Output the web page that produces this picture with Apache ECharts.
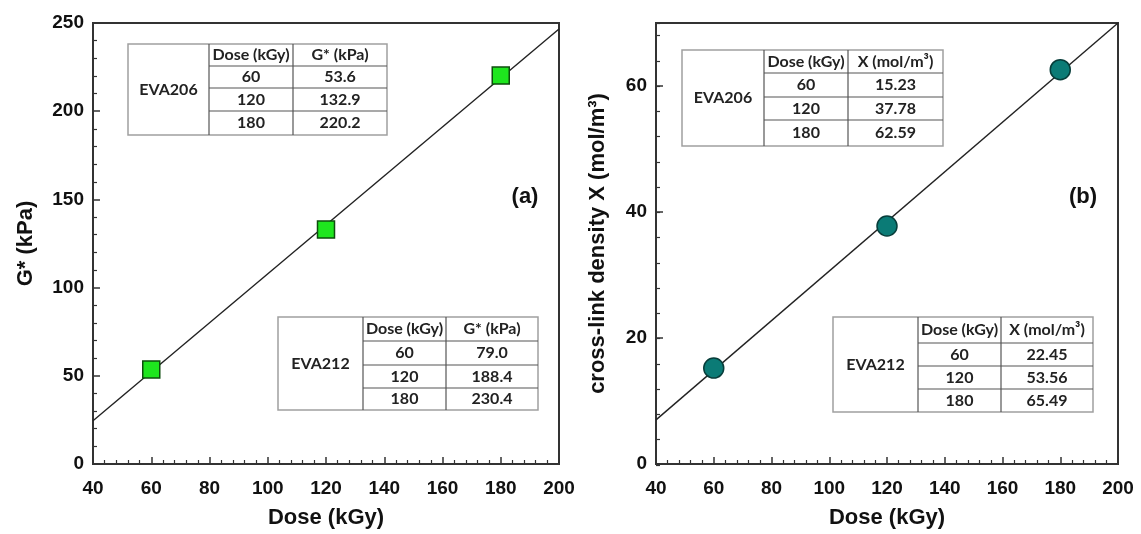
<!DOCTYPE html>
<html><head><meta charset="utf-8">
<script src="https://cdn.jsdelivr.net/npm/echarts@6/dist/echarts.min.js"></script>
<style>html,body{margin:0;padding:0;background:#fff}#c{width:1141px;height:534px}</style>
</head><body><div id="c"></div>
<script>
// ---- data ----
const doseA = [60, 120, 180];
const gStar = [53.6, 132.9, 220.2];
const fitDoseA = [40, 200];
const fitGStar = [24.5, 246.6];
const doseB = [60, 120, 180];
const crossX = [15.23, 37.78, 62.59];
const fitDoseB = [40, 200];
const fitCrossX = [7.0, 70.0];
const tableDoses = ['60', '120', '180'];
const eva206G = ['53.6', '132.9', '220.2'];
const eva212G = ['79.0', '188.4', '230.4'];
const eva206X = ['15.23', '37.78', '62.59'];
const eva212X = ['22.45', '53.56', '65.49'];

const chart = echarts.init(document.getElementById('c'), null, {renderer: 'canvas'});

const AX = '#333';
const labelFont = {fontFamily: 'Liberation Sans', fontWeight: 'bold', fontSize: 19, color: '#111'};
const nameFont = {fontFamily: 'Liberation Sans', fontWeight: 'bold', fontSize: 22, color: '#111'};

function baseAxis(extra) {
  return Object.assign({
    type: 'value',
    axisLine: {show: true, lineStyle: {color: AX, width: 2}},
    axisTick: {show: true, inside: true, length: 7, lineStyle: {color: AX, width: 1.5}},
    minorTick: {show: true, splitNumber: 5, length: 4, lineStyle: {color: AX, width: 1.2}},
    splitLine: {show: false},
    axisLabel: Object.assign({margin: 15}, labelFont),
    nameTextStyle: nameFont,
    nameLocation: 'middle'
  }, extra);
}

function ln(x1, y1, x2, y2) {
  return {type: 'line', shape: {x1, y1, x2, y2}, style: {stroke: '#555', lineWidth: 1.2}};
}
function txt(t, x, y) {
  return {type: 'text', style: {text: t, x, y, align: 'center', verticalAlign: 'middle', textAlign: 'center', textVerticalAlign: 'middle', font: 'bold 16px Lato', fill: '#222'}};
}
function table(x, y, cols, rows, name, h1, h2, c2, c3) {
  const W = cols[0] + cols[1] + cols[2];
  const H = rows.reduce((a, b) => a + b, 0);
  const x1 = x + cols[0], x2 = x1 + cols[1], x3 = x + W;
  const ys = [y];
  rows.forEach(r => ys.push(ys[ys.length - 1] + r));
  const ch = [];
  ch.push({type: 'rect', shape: {x, y, width: W, height: H}, style: {fill: '#fff', stroke: '#a0a0a0', lineWidth: 1.5}});
  ch.push(ln(x1, y, x1, y + H));
  ch.push(ln(x2, y, x2, y + H));
  for (let i = 1; i < 4; i++) ch.push(ln(x1, ys[i], x3, ys[i]));
  ch.push(txt(name, (x + x1) / 2, y + H / 2));
  ch.push(txt(h1, (x1 + x2) / 2, (ys[0] + ys[1]) / 2));
  ch.push(txt(h2, (x2 + x3) / 2, (ys[0] + ys[1]) / 2));
  for (let i = 0; i < 3; i++) {
    ch.push(txt(c2[i], (x1 + x2) / 2, (ys[i + 1] + ys[i + 2]) / 2));
    ch.push(txt(c3[i], (x2 + x3) / 2, (ys[i + 1] + ys[i + 2]) / 2));
  }
  return {type: 'group', z: 100, children: ch};
}

const option = {
  backgroundColor: '#fff',
  animation: false,
  grid: [
    {left: 93, top: 23, width: 466, height: 442, show: true, borderColor: AX, borderWidth: 2, backgroundColor: 'transparent'},
    {left: 656, top: 23, width: 462, height: 442, show: true, borderColor: AX, borderWidth: 2, backgroundColor: 'transparent'},
    {left: 656, top: 23, width: 462, height: 442, show: false}
  ],
  xAxis: [
    baseAxis({gridIndex: 0, min: 40, max: 200, interval: 20, name: 'Dose (kGy)', nameGap: 43}),
    baseAxis({gridIndex: 1, min: 40, max: 200, interval: 20, name: 'Dose (kGy)', nameGap: 43}),
    {gridIndex: 2, type: 'value', min: 40, max: 200, show: false}
  ],
  yAxis: [
    baseAxis({gridIndex: 0, min: 0, max: 250, interval: 50, name: 'G* (kPa)', nameGap: 56,
      axisLabel: Object.assign({margin: 9}, labelFont)}),
    baseAxis({gridIndex: 1, min: 0, max: 70, interval: 20, name: 'cross-link density X (mol/m³)', nameGap: 47,
      minorTick: {show: false},
      axisLabel: Object.assign({margin: 9, showMaxLabel: false}, labelFont)}),
    {gridIndex: 2, type: 'value', min: 0, max: 70, interval: 4,
      axisLine: {show: false}, axisLabel: {show: false}, splitLine: {show: false},
      axisTick: {show: true, inside: true, length: 4, lineStyle: {color: AX, width: 1.2}}}
  ],
  series: [
    {type: 'line', xAxisIndex: 0, yAxisIndex: 0, symbol: 'none', silent: true,
      lineStyle: {color: '#222', width: 1.4},
      data: fitDoseA.map((d, i) => [d, fitGStar[i]])},
    {type: 'scatter', xAxisIndex: 0, yAxisIndex: 0, symbol: 'rect', symbolSize: 17,
      itemStyle: {color: '#1ee61e', borderColor: '#0d4d0d', borderWidth: 1.5, opacity: 1},
      data: doseA.map((d, i) => [d, gStar[i]]), z: 5},
    {type: 'line', xAxisIndex: 1, yAxisIndex: 1, symbol: 'none', silent: true,
      lineStyle: {color: '#222', width: 1.4},
      data: fitDoseB.map((d, i) => [d, fitCrossX[i]])},
    {type: 'scatter', xAxisIndex: 1, yAxisIndex: 1, symbol: 'circle', symbolSize: 20,
      itemStyle: {color: '#0b7b76', borderColor: '#073d3a', borderWidth: 1.5, opacity: 1},
      data: doseB.map((d, i) => [d, crossX[i]]), z: 5}
  ],
  graphic: [
    table(128, 44, [81, 84, 94], [22, 22, 23, 24], 'EVA206', 'Dose (kGy)', 'G* (kPa)', tableDoses, eva206G),
    table(278, 317, [85, 83, 92], [24, 24, 23, 22], 'EVA212', 'Dose (kGy)', 'G* (kPa)', tableDoses, eva212G),
    table(682, 50, [82, 84, 95], [23, 24, 23, 26], 'EVA206', 'Dose (kGy)', 'X (mol/m³)', tableDoses, eva206X),
    table(833, 317, [85, 83, 92], [26, 23, 23, 23], 'EVA212', 'Dose (kGy)', 'X (mol/m³)', tableDoses, eva212X),
    {type: 'text', z: 100, style: {text: '(a)', x: 525, y: 197, align: 'center', verticalAlign: 'middle', textAlign: 'center', textVerticalAlign: 'middle', font: 'bold 22px "Liberation Sans"', fill: '#111'}},
    {type: 'text', z: 100, style: {text: '(b)', x: 1083, y: 197, align: 'center', verticalAlign: 'middle', textAlign: 'center', textVerticalAlign: 'middle', font: 'bold 22px "Liberation Sans"', fill: '#111'}}
  ]
};
chart.setOption(option);
</script>
</body></html>
